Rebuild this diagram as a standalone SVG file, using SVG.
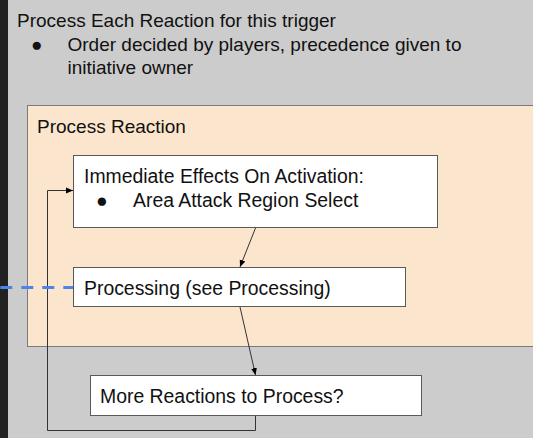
<svg xmlns="http://www.w3.org/2000/svg" width="533" height="438" viewBox="0 0 533 438">
  <defs>
    <marker id="ah" markerWidth="8" markerHeight="8" refX="7" refY="4" orient="auto" markerUnits="userSpaceOnUse">
      <path d="M0,1 L7,4 L0,7 Z" fill="#000"/>
    </marker>
    <style>
      text { font-family: "Liberation Sans", Arial, sans-serif; font-size: 19px; fill: #111; }
      .in { font-size: 19.4px; }
      .box { fill: #ffffff; stroke: #595959; stroke-width: 1; }
      .conn { fill: none; stroke: #333; stroke-width: 1; }
    </style>
  </defs>
  <rect x="0" y="0" width="533" height="438" fill="#cccccc"/>
  <rect x="0" y="0" width="8" height="438" fill="#222222"/>

  <g id="outer">
    <text x="17" y="27">Process Each Reaction for this trigger</text>
    <text x="31" y="50.5">●</text>
    <text x="67.5" y="50.5">Order decided by players, precedence given to</text>
    <text x="67.5" y="73.5">initiative owner</text>
  </g>

  <g id="process-reaction">
    <rect x="27.5" y="105.5" width="520" height="241" fill="#fce5cd" stroke="#7a7a7a" stroke-width="1"/>
    <text x="37" y="132.5">Process Reaction</text>
  </g>

  <g id="immediate-effects">
    <rect class="box" x="73.5" y="155.5" width="364" height="72"/>
    <text class="in" x="84" y="183">Immediate Effects On Activation:</text>
    <text class="in" x="96" y="207">●</text>
    <text class="in" x="133" y="207">Area Attack Region Select</text>
  </g>

  <g id="processing">
    <rect class="box" x="73.5" y="267.5" width="332" height="39"/>
    <text class="in" x="84" y="295">Processing (see Processing)</text>
  </g>

  <g id="more-reactions">
    <rect class="box" x="90.5" y="375.5" width="331" height="40"/>
    <text class="in" x="100" y="403">More Reactions to Process?</text>
  </g>

  <g id="connectors">
    <line class="conn" x1="255.5" y1="228" x2="240" y2="267" marker-end="url(#ah)"/>
    <line class="conn" x1="240" y1="307" x2="255.5" y2="375" marker-end="url(#ah)"/>
    <polyline class="conn" points="255.5,416 255.5,430.5 47.5,430.5 47.5,190.5 73,190.5" marker-end="url(#ah)"/>
    <line x1="0" y1="287.5" x2="73" y2="287.5" stroke="#4a86e8" stroke-width="3" stroke-dasharray="12 9" stroke-dashoffset="-0.3"/>
  </g>
</svg>
